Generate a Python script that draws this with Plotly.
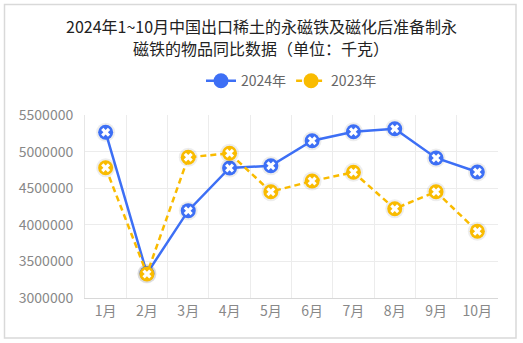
import plotly.graph_objects as go

months = ["1月", "2月", "3月", "4月", "5月", "6月", "7月", "8月", "9月", "10月"]
v2024 = [5264000, 3335000, 4193000, 4776000, 4807000, 5149000, 5272000, 5313000, 4913000, 4721000]
v2023 = [4780000, 3328000, 4922000, 4977000, 4452000, 4598000, 4717000, 4220000, 4452000, 3911000]
yticks = [3000000, 3500000, 4000000, 4500000, 5000000, 5500000]
title_lines = ["2024年1~10月中国出口稀土的永磁铁及磁化后准备制永", "磁铁的物品同比数据（单位：千克）"]

blue = "#3d6ff5"
yellow = "#f9bb00"
font = "Noto Sans CJK SC"

fig = go.Figure()
for name, vals, color, dash in [("2024年", v2024, blue, "solid"), ("2023年", v2023, yellow, "6px,4px")]:
    # shadow
    fig.add_trace(go.Scatter(x=months, y=vals, mode="markers", showlegend=False, hoverinfo="skip",
                             marker=dict(symbol="circle", size=19, color="rgba(0,0,0,0.07)", line=dict(width=0))))
    fig.add_trace(go.Scatter(x=months, y=vals, name=name, mode="lines+markers",
                             line=dict(color=color, width=2.5, dash=dash),
                             marker=dict(symbol="circle", size=15, color=color, line=dict(width=0))))
    fig.add_trace(go.Scatter(x=months, y=vals, mode="markers", showlegend=False, hoverinfo="skip",
                             marker=dict(symbol="x", size=8, color="white", line=dict(width=0))))

title_y = [(298 - 25.5) / 183, (298 - 48.5) / 183]
annotations = [dict(text=t, xref="paper", yref="paper", x=(261 - 85) / 413, y=yy, xanchor="center",
                    yanchor="middle", showarrow=False, font=dict(size=16, color="#222", family=font))
               for t, yy in zip(title_lines, title_y)]

fig.update_layout(
    width=523, height=343,
    margin=dict(l=85, r=25, t=115, b=45),
    paper_bgcolor="white", plot_bgcolor="white",
    font=dict(family=font, color="#666"),
    annotations=annotations,
    legend=dict(orientation="h", x=0.5, xanchor="center", y=1.185, yanchor="middle",
                font=dict(size=14, color="#666"), itemwidth=30, traceorder="normal"),
    showlegend=True,
    xaxis=dict(type="category", range=[-0.5, 9.5], tickson="boundaries", showgrid=True,
               gridcolor="#ececec", gridwidth=1, showline=True, linecolor="#d8d8d8",
               ticks="", tickfont=dict(size=14, color="#888"), fixedrange=True),
    yaxis=dict(range=[3000000, 5500000], tickvals=yticks, tickformat="d", showgrid=True,
               gridcolor="#ececec", showline=True, linecolor="#e6e6e6", zeroline=False,
               ticks="", tickfont=dict(size=14, color="#888"), ticklabelstandoff=8),
    shapes=[dict(type="rect", xref="paper", yref="paper",
                 x0=(4.5 - 85) / 413, x1=(516 - 85) / 413,
                 y0=(298 - 338) / 183, y1=(298 - 4.5) / 183,
                 line=dict(color="#d9d9d9", width=1.5), fillcolor="rgba(0,0,0,0)", layer="below")],
)

fig.write_html("out.html")
